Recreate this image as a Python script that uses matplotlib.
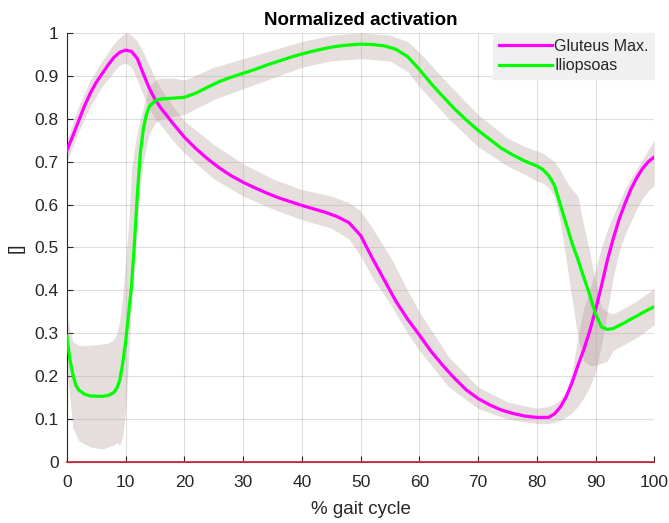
import matplotlib.pyplot as plt
import numpy as np

plt.rcParams['font.family'] = ['Liberation Sans', 'DejaVu Sans']

# ---- mean curves ----
gait = [0, 1, 2, 3, 4, 5, 6, 7, 8, 9, 10, 11, 12, 13, 14, 15, 16, 18, 20,
        22, 24, 26, 28, 30, 32, 34, 36, 38, 40, 42, 44, 46, 48, 50, 52, 54,
        56, 58, 60, 62, 64, 66, 68, 70, 72, 74, 76, 78, 80, 82, 83, 84, 85,
        86, 87, 88, 89, 90, 91, 92, 93, 94, 95, 96, 97, 98, 99, 100]
gluteus = [0.726, 0.76, 0.795, 0.83, 0.86, 0.885, 0.905, 0.925, 0.943, 0.955,
           0.960, 0.957, 0.940, 0.905, 0.872, 0.845, 0.825, 0.790, 0.757,
           0.730, 0.706, 0.685, 0.667, 0.652, 0.639, 0.627, 0.616, 0.607,
           0.598, 0.590, 0.582, 0.572, 0.558, 0.528, 0.475, 0.425, 0.375,
           0.333, 0.296, 0.258, 0.225, 0.195, 0.168, 0.148, 0.133, 0.121,
           0.113, 0.107, 0.104, 0.104, 0.112, 0.128, 0.152, 0.185, 0.225,
           0.262, 0.305, 0.355, 0.410, 0.470, 0.520, 0.565, 0.602, 0.635,
           0.662, 0.684, 0.700, 0.711]

ilio_x = [0, 0.5, 1, 1.5, 2, 3, 4, 6, 7, 8, 8.5, 9, 9.5, 10, 10.5, 11, 11.5,
          12, 12.5, 13, 13.5, 14, 15, 16, 18, 20, 22, 24, 26, 28, 30, 32, 34,
          36, 38, 40, 42, 44, 46, 48, 50, 52, 54, 56, 58, 60, 62, 64, 66, 68,
          70, 72, 74, 76, 78, 80, 81, 82, 83, 84, 85, 86, 87, 88, 89, 90, 91,
          92, 93, 94, 95, 96, 97, 98, 99, 100]
iliopsoas = [0.294, 0.24, 0.205, 0.18, 0.168, 0.158, 0.154, 0.153, 0.155,
             0.162, 0.172, 0.19, 0.23, 0.28, 0.345, 0.41, 0.51, 0.625, 0.72,
             0.775, 0.808, 0.828, 0.842, 0.846, 0.848, 0.850, 0.860, 0.874,
             0.887, 0.897, 0.906, 0.915, 0.925, 0.934, 0.943, 0.951, 0.958,
             0.964, 0.969, 0.972, 0.974, 0.973, 0.970, 0.962, 0.945, 0.915,
             0.882, 0.852, 0.823, 0.797, 0.773, 0.752, 0.731, 0.715, 0.701,
             0.690, 0.682, 0.668, 0.645, 0.600, 0.555, 0.510, 0.472, 0.430,
             0.390, 0.345, 0.315, 0.309, 0.311, 0.318, 0.325, 0.333, 0.340,
             0.348, 0.355, 0.362]

# ---- spread bands (upper / lower edges) ----
glut_band_x = [0, 2, 4, 6, 8, 9, 10, 11, 12, 13, 14, 15, 16, 18, 20, 25, 30,
               35, 40, 45, 48, 50, 52, 55, 58, 60, 65, 70, 75, 80, 82, 83, 84,
               85, 86, 87, 88, 89, 90, 91, 92, 93, 94, 95, 96, 97, 98, 99, 100]
glut_upper = [0.75, 0.83, 0.89, 0.935, 0.975, 0.99, 1.0, 0.995, 0.98, 0.955,
              0.925, 0.895, 0.87, 0.83, 0.795, 0.74, 0.695, 0.66, 0.635, 0.62,
              0.605, 0.585, 0.545, 0.48, 0.40, 0.35, 0.245, 0.175, 0.14, 0.125,
              0.13, 0.135, 0.145, 0.165, 0.21, 0.29, 0.36, 0.40, 0.45, 0.50,
              0.54, 0.575, 0.605, 0.635, 0.66, 0.683, 0.705, 0.728, 0.75]
glut_lower = [0.70, 0.77, 0.83, 0.875, 0.91, 0.925, 0.93, 0.92, 0.89, 0.855,
              0.825, 0.80, 0.785, 0.75, 0.72, 0.66, 0.62, 0.59, 0.565, 0.545,
              0.52, 0.48, 0.43, 0.37, 0.30, 0.26, 0.175, 0.125, 0.10, 0.09,
              0.09, 0.093, 0.097, 0.105, 0.115, 0.13, 0.15, 0.175, 0.21, 0.27,
              0.35, 0.43, 0.49, 0.53, 0.56, 0.59, 0.615, 0.632, 0.645]

ilio_band_x = [0, 1, 2, 4, 6, 7, 8, 8.5, 9, 9.5, 10, 10.5, 11, 11.5, 12, 12.5,
               13, 13.5, 14, 15, 16, 18, 20, 25, 30, 35, 40, 45, 50, 55, 58,
               60, 65, 70, 75, 78, 80, 81, 82, 83, 84, 85, 86, 87, 88, 89, 90,
               91, 92, 93, 95, 97, 100]
ilio_upper = [0.34, 0.28, 0.272, 0.272, 0.275, 0.277, 0.285, 0.30, 0.33, 0.386,
              0.47, 0.55, 0.68, 0.73, 0.77, 0.80, 0.825, 0.85, 0.875, 0.89,
              0.895, 0.895, 0.89, 0.92, 0.94, 0.96, 0.98, 0.995, 1.0, 0.995,
              0.98, 0.955, 0.88, 0.81, 0.755, 0.735, 0.725, 0.72, 0.71, 0.70,
              0.68, 0.655, 0.635, 0.62, 0.55, 0.49, 0.42, 0.36, 0.35, 0.345,
              0.36, 0.375, 0.405]
ilio_lower = [0.22, 0.08, 0.05, 0.035, 0.03, 0.035, 0.04, 0.045, 0.04, 0.06,
              0.12, 0.24, 0.36, 0.46, 0.56, 0.64, 0.70, 0.735, 0.765, 0.79,
              0.80, 0.805, 0.81, 0.845, 0.87, 0.895, 0.92, 0.935, 0.94, 0.935,
              0.91, 0.875, 0.80, 0.735, 0.69, 0.67, 0.655, 0.65, 0.64, 0.62,
              0.56, 0.47, 0.38, 0.29, 0.235, 0.225, 0.225, 0.23, 0.235, 0.26,
              0.275, 0.29, 0.32]

band_color = (0.73, 0.63, 0.63)
axis_gray = (0.15, 0.15, 0.15)

fig = plt.figure(figsize=(6.69, 5.23), dpi=100)
ax = fig.add_axes([0.1, 0.1166, 0.878, 0.8204])

ax.fill_between(glut_band_x, glut_lower, glut_upper, color=band_color,
                alpha=0.36, linewidth=0, zorder=1)
ax.fill_between(ilio_band_x, ilio_lower, ilio_upper, color=band_color,
                alpha=0.36, linewidth=0, zorder=1)

ax.plot(gait, gluteus, color=(1, 0, 1), lw=2.3, label='Gluteus Max.', zorder=3)
ax.plot(ilio_x, iliopsoas, color=(0, 1, 0), lw=2.3, label='Iliopsoas', zorder=3)
ax.axhline(0, color=(0.78, 0.2, 0.25), lw=1.3, zorder=4, clip_on=False)

ax.set_xlim(0, 100)
ax.set_ylim(0, 1)
ax.set_xticks(np.arange(0, 101, 10))
ax.set_yticks(np.arange(0, 1.01, 0.1))
ax.set_yticklabels(['0', '0.1', '0.2', '0.3', '0.4', '0.5', '0.6', '0.7',
                    '0.8', '0.9', '1'])
ax.grid(True, color=axis_gray, alpha=0.15, lw=0.8)
ax.set_axisbelow(True)

for side in ['top', 'right']:
    ax.spines[side].set_visible(False)
for side in ['left', 'bottom']:
    ax.spines[side].set_color(axis_gray)
    ax.spines[side].set_linewidth(0.8)
ax.tick_params(direction='in', length=4, colors=axis_gray, labelsize=12.5,
               labelcolor=axis_gray)
ax.tick_params(axis='x', pad=9)
ax.tick_params(axis='y', pad=6)

ax.set_title('Normalized activation', fontsize=13.5, fontweight='bold', pad=6)
ax.set_xlabel('% gait cycle', fontsize=13.5, color=axis_gray, labelpad=8)
ax.set_ylabel('[]', fontsize=13.5, color=axis_gray, labelpad=7)

leg = ax.legend(loc='upper right', fontsize=11.5, frameon=True, fancybox=False,
                borderaxespad=0, handlelength=3.3, handletextpad=0.15,
                borderpad=0.35, labelspacing=0.3)
leg.get_frame().set_facecolor((0.94, 0.94, 0.94))
leg.get_frame().set_edgecolor((0.94, 0.94, 0.94))
leg.get_frame().set_alpha(1)
for t in leg.get_texts():
    t.set_color(axis_gray)

fig.savefig('out.png', dpi=100)
